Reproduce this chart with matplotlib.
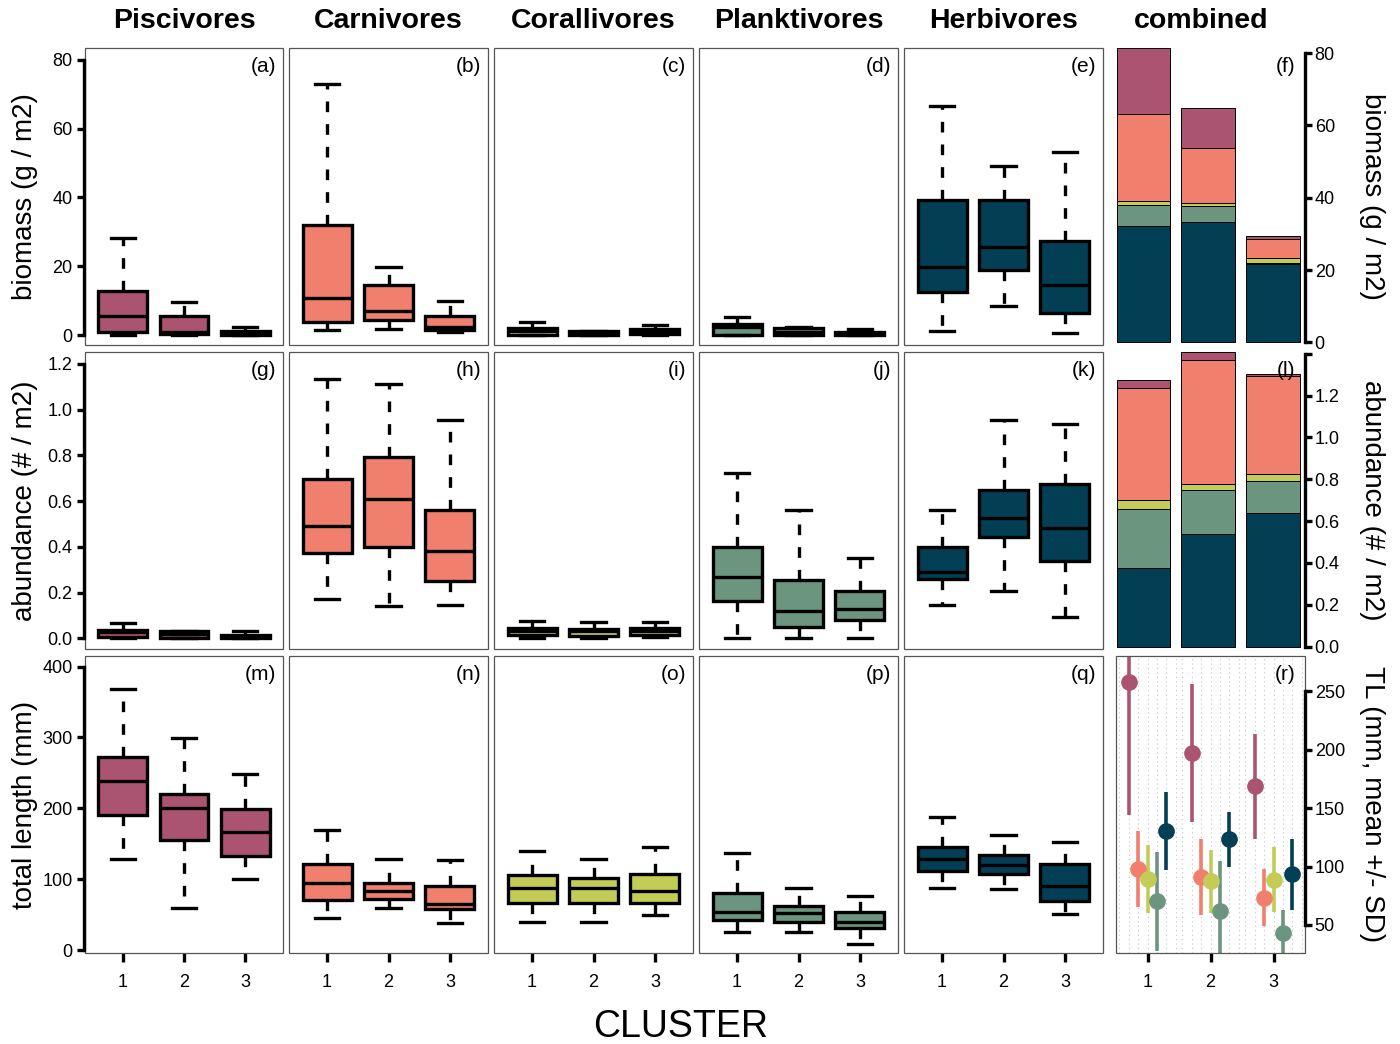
import matplotlib.pyplot as plt
from matplotlib.patches import Rectangle
import numpy as np

plt.rcParams['font.family'] = ['Liberation Sans', 'DejaVu Sans']

groups = ['Piscivores', 'Carnivores', 'Corallivores', 'Planktivores', 'Herbivores']
group_colors = ['#AB5471', '#F07F6D', '#C3CC57', '#6B957F', '#023F55']
clusters = [1, 2, 3]

# boxplot summaries, one row per cluster: [whisker low, Q1, median, Q3, whisker high]
bio_pisc = [[0, 1.0, 5.5, 12.9, 28.1], [0, 0.2, 0.9, 5.5, 9.7], [0, 0.1, 0.5, 1.3, 2.4]]
bio_carn = [[1.5, 3.9, 10.7, 32.0, 72.9], [1.7, 4.4, 7.1, 14.4, 19.9], [1.0, 1.5, 2.4, 5.5, 10.0]]
bio_cora = [[0, 0.1, 1.2, 2.1, 3.9], [0, 0.1, 0.6, 1.1, 1.3], [0, 0.2, 1.0, 1.7, 2.8]]
bio_plan = [[0, 0.1, 2.2, 3.2, 5.3], [0, 0.1, 0.9, 1.9, 2.2], [0, 0.0, 0.4, 0.9, 1.7]]
bio_herb = [[1.2, 12.4, 19.7, 39.1, 66.6], [8.5, 18.9, 25.7, 39.3, 49.2], [0.5, 6.5, 14.5, 27.2, 53.1]]

ab_pisc = [[0, 0.005, 0.026, 0.038, 0.065], [0, 0.003, 0.018, 0.032, 0.033], [0, 0.0, 0.008, 0.016, 0.030]]
ab_carn = [[0.171, 0.371, 0.491, 0.698, 1.134], [0.142, 0.397, 0.611, 0.794, 1.112], [0.147, 0.251, 0.382, 0.560, 0.954]]
ab_cora = [[0.0, 0.014, 0.033, 0.044, 0.077], [0.002, 0.010, 0.031, 0.041, 0.073], [0.004, 0.014, 0.031, 0.044, 0.070]]
ab_plan = [[0.0, 0.164, 0.269, 0.401, 0.724], [0.0, 0.051, 0.118, 0.256, 0.560], [0.0, 0.080, 0.128, 0.208, 0.349]]
ab_herb = [[0.147, 0.259, 0.291, 0.397, 0.561], [0.205, 0.443, 0.525, 0.649, 0.954], [0.094, 0.336, 0.484, 0.673, 0.935]]

tl_pisc = [[129, 190, 239, 272, 369], [60, 155, 200, 220, 299], [100, 133, 166, 199, 249]]
tl_carn = [[45, 71, 94, 121, 170], [59, 72, 84, 95, 129], [38, 58, 65, 91, 127]]
tl_cora = [[40, 67, 87, 106, 140], [40, 66, 88, 102, 129], [50, 67, 84, 108, 145]]
tl_plan = [[26, 42, 54, 81, 137], [26, 40, 52, 62, 87], [8, 31, 40, 54, 76]]
tl_herb = [[88, 112, 128, 145, 188], [86, 108, 120, 134, 163], [51, 69, 91, 121, 152]]

# means per cluster (combined panels)
bio_mean_pisc = [18.2, 11.2, 0.8]
bio_mean_carn = [24.0, 15.1, 5.1]
bio_mean_cora = [1.3, 0.8, 1.4]
bio_mean_plan = [5.8, 4.4, 0.3]
bio_mean_herb = [32.1, 33.4, 21.7]

ab_mean_pisc = [0.040, 0.035, 0.008]
ab_mean_carn = [0.536, 0.593, 0.469]
ab_mean_cora = [0.040, 0.028, 0.032]
ab_mean_plan = [0.281, 0.210, 0.154]
ab_mean_herb = [0.378, 0.540, 0.640]

tl_mean_pisc = [258, 197.4, 168.9]
tl_mean_carn = [97.8, 91.2, 73.5]
tl_mean_cora = [89.3, 87.3, 88.7]
tl_mean_plan = [70.2, 62.2, 42.9]
tl_mean_herb = [130.5, 123.4, 93.5]
tl_sd_pisc = [114, 59.3, 45]
tl_sd_carn = [32.7, 32.3, 24.5]
tl_sd_cora = [28.8, 26.9, 28.0]
tl_sd_plan = [42.5, 42.3, 20.0]
tl_sd_herb = [33.4, 23.5, 30.3]

box_rows = [[bio_pisc, bio_carn, bio_cora, bio_plan, bio_herb],
            [ab_pisc, ab_carn, ab_cora, ab_plan, ab_herb],
            [tl_pisc, tl_carn, tl_cora, tl_plan, tl_herb]]
bar_rows = [[bio_mean_pisc, bio_mean_carn, bio_mean_cora, bio_mean_plan, bio_mean_herb],
            [ab_mean_pisc, ab_mean_carn, ab_mean_cora, ab_mean_plan, ab_mean_herb]]
tl_means = [tl_mean_pisc, tl_mean_carn, tl_mean_cora, tl_mean_plan, tl_mean_herb]
tl_sds = [tl_sd_pisc, tl_sd_carn, tl_sd_cora, tl_sd_plan, tl_sd_herb]

left_labels = ['biomass (g / m2)', 'abundance (# / m2)', 'total length (mm)']
right_labels = ['biomass (g / m2)', 'abundance (# / m2)', 'TL (mm, mean +/- SD)']
left_ticks = [[0, 20, 40, 60, 80], [0, 0.2, 0.4, 0.6, 0.8, 1.0, 1.2], [0, 100, 200, 300, 400]]
left_fmt = ['{:.0f}', '{:.1f}', '{:.0f}']
box_ylims = [(-2.9, 83.4), (-0.047, 1.252), (-4.2, 415)]

W, H = 1400, 1044
col_left = [85, 289, 494, 699, 904, 1116]
col_width = [198, 199, 199, 199, 199, 189]
row_top = [48, 352, 656]
row_h = 297
LW = 2.4

fig = plt.figure(figsize=(14, 10.44), dpi=100)


def panel(r, c):
    return fig.add_axes([col_left[c] / W, 1 - (row_top[r] + row_h) / H,
                         col_width[c] / W, row_h / H])


def frame(ax):
    ax.add_patch(Rectangle((0, 0), 1, 1, transform=ax.transAxes, fill=False,
                           ec='#555555', lw=0.9, clip_on=False, zorder=5))


def tag(ax, r, c, dx=-7):
    letter = 'abcdefghijklmnopqr'[r * 6 + c]
    ax.annotate('(' + letter + ')', xy=(1, 1), xycoords='axes fraction',
                xytext=(dx, -9), textcoords='offset pixels', ha='right', va='top',
                fontsize=15, zorder=10)


for r in range(3):
    for c in range(5):
        ax = panel(r, c)
        for s in ax.spines.values():
            s.set_visible(False)
        frame(ax)
        stats = [dict(whislo=s[0], q1=s[1], med=s[2], q3=s[3], whishi=s[4], fliers=[])
                 for s in box_rows[r][c]]
        ax.bxp(stats, positions=clusters, widths=0.8, patch_artist=True,
               showfliers=False, manage_ticks=False,
               boxprops=dict(facecolor=group_colors[c], edgecolor='black', linewidth=LW),
               whiskerprops=dict(color='black', linewidth=LW, linestyle=(0, (3.2, 3.6))),
               capprops=dict(color='black', linewidth=LW),
               medianprops=dict(color='black', linewidth=LW))
        ax.set_xlim(0.38, 3.62)
        ax.set_ylim(*box_ylims[r])
        if c == 0:
            sp = ax.spines['left']
            sp.set_visible(True)
            sp.set_linewidth(LW)
            sp.set_color('black')
            sp.set_position(('outward', 1))
            sp.set_bounds(left_ticks[r][0], left_ticks[r][-1])
            sp.set_zorder(6)
            ax.set_yticks(left_ticks[r])
            ax.set_yticklabels([left_fmt[r].format(t) for t in left_ticks[r]])
            ax.tick_params(axis='y', length=5, width=LW, pad=3, labelsize=13)
        else:
            ax.set_yticks([])
        if r == 2:
            ax.set_xticks(clusters)
            ax.set_xticklabels([str(k) for k in clusters])
            ax.tick_params(axis='x', length=6.5, width=LW, pad=8.5, labelsize=13)
        else:
            ax.set_xticks([])
        tag(ax, r, c)
        if r == 0:
            fig.text((col_left[c] + col_width[c] / 2) / W, 1 - 21 / H, groups[c],
                     ha='center', va='center', fontsize=20.5, fontweight='bold')

# combined panels: stacked means
bar_x = np.arange(3) * 1.2 + 0.7
bar_ylims = [(-0.7, 81.4), (-0.011, 1.408)]
right_ticks = [[0, 20, 40, 60, 80], [0, 0.2, 0.4, 0.6, 0.8, 1.0, 1.2, 1.4]]
right_ticklabels = [['0', '20', '40', '60', '80'],
                    ['0.0', '0.2', '0.4', '0.6', '0.8', '1.0', '1.2', '']]
for r in range(2):
    ax = panel(r, 5)
    for s in ax.spines.values():
        s.set_visible(False)
    bottom = np.zeros(3)
    for g in [4, 3, 2, 1, 0]:
        vals = np.array(bar_rows[r][g])
        ax.bar(bar_x, vals, width=1.0, bottom=bottom, color=group_colors[g],
               edgecolor='black', linewidth=0.7)
        bottom += vals
    ax.set_xlim(0.187, 3.70)
    ax.set_ylim(*bar_ylims[r])
    ax.set_xticks([])
    sp = ax.spines['right']
    sp.set_visible(True)
    sp.set_linewidth(LW)
    sp.set_bounds(right_ticks[r][0], right_ticks[r][-1])
    ax.yaxis.tick_right()
    ax.set_yticks(right_ticks[r])
    ax.set_yticklabels(right_ticklabels[r])
    ax.tick_params(axis='y', length=5, width=LW, pad=2, labelsize=13)
    tag(ax, r, 5, dx=-10)
    if r == 0:
        fig.text(1201 / W, 1 - 21 / H, 'combined', ha='center', va='center',
                 fontsize=20.5, fontweight='bold')

# combined TL panel: mean +/- SD
ax = panel(2, 5)
for s in ax.spines.values():
    s.set_visible(False)
frame(ax)
offsets = [-0.3, -0.15, 0, 0.15, 0.3]
grid_x = [c + k * 0.15 for c in clusters for k in range(-3, 4)]
for gx in grid_x:
    ax.axvline(gx, color='#c4c4c4', linestyle=(0, (1, 3)), linewidth=0.8, zorder=0)
for g in range(5):
    xs = np.array(clusters) + offsets[g]
    ax.errorbar(xs, tl_means[g], yerr=tl_sds[g], fmt='o', color=group_colors[g],
                ecolor=group_colors[g], elinewidth=2.6, capsize=0, markersize=11)
ax.set_xlim(0.5, 3.5)
ax.set_ylim(26, 280.4)
ax.set_xticks(clusters)
ax.set_xticklabels([str(k) for k in clusters])
ax.tick_params(axis='x', length=6.5, width=LW, pad=8.5, labelsize=13)
sp = ax.spines['right']
sp.set_visible(True)
sp.set_linewidth(LW)
sp.set_bounds(50, 250)
sp.set_zorder(6)
ax.yaxis.tick_right()
ax.set_yticks([50, 100, 150, 200, 250])
ax.tick_params(axis='y', length=5, width=LW, pad=2, labelsize=13)
tag(ax, 2, 5, dx=-9)

for r in range(3):
    yc = 1 - (row_top[r] + row_h / 2) / H
    fig.text(25 / W, yc, left_labels[r], rotation=90, ha='center', va='center', fontsize=20)
    fig.text(1372 / W, yc, right_labels[r], rotation=270, ha='center', va='center', fontsize=20)

fig.text(681 / W, 1 - 1027 / H, 'CLUSTER', ha='center', va='center', fontsize=27)

fig.savefig('out.png', dpi=100)
